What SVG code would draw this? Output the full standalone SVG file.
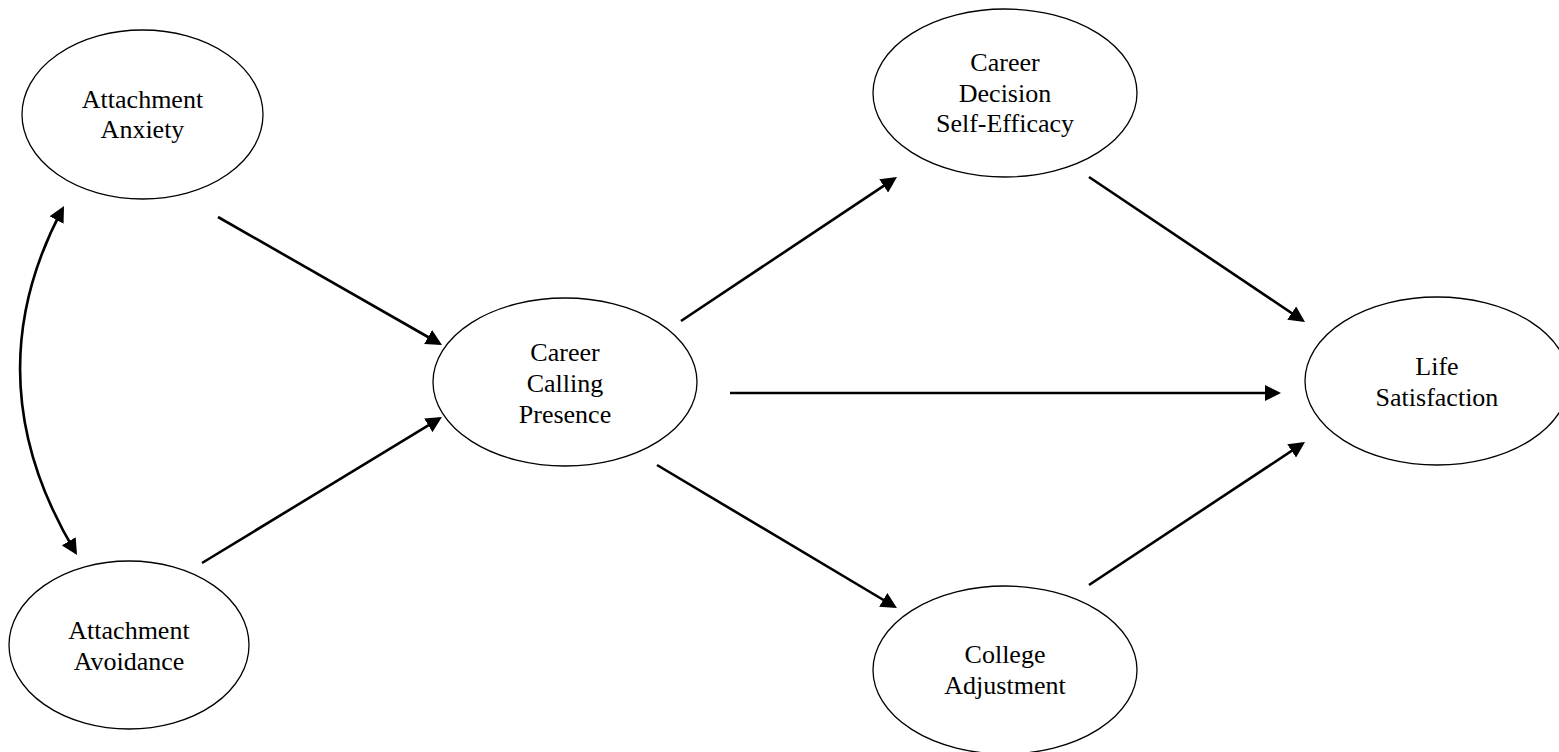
<svg xmlns="http://www.w3.org/2000/svg" width="1559" height="752" viewBox="0 0 1559 752">
<style>
.node ellipse{fill:#fff;stroke:#000;stroke-width:1.3}
.node text{font-family:"Liberation Serif","Times New Roman",serif;font-size:26px;fill:#000;text-anchor:middle}
.conn{fill:none;stroke:#000;stroke-width:2.6}
</style>
<defs>
<marker id="ah" markerUnits="userSpaceOnUse" markerWidth="16" markerHeight="16" viewBox="0 0 16 16" refX="13" refY="8" orient="auto-start-reverse">
<path d="M0,0 L16,8 L0,16 z" fill="#000"/>
</marker>
</defs>
<rect width="1559" height="752" fill="#fff"/>
<g id="connectors">
<path class="conn" d="M62.6,208.6 Q-28.5,379.5 75.5,552.4" marker-start="url(#ah)" marker-end="url(#ah)"/>
<line class="conn" x1="218" y1="217" x2="439.4" y2="343.5" marker-end="url(#ah)"/>
<line class="conn" x1="202" y1="563" x2="439.4" y2="418.6" marker-end="url(#ah)"/>
<line class="conn" x1="681" y1="321" x2="894.5" y2="178.7" marker-end="url(#ah)"/>
<line class="conn" x1="730" y1="393" x2="1278" y2="393" marker-end="url(#ah)"/>
<line class="conn" x1="657" y1="465" x2="894.4" y2="606.5" marker-end="url(#ah)"/>
<line class="conn" x1="1089" y1="177" x2="1302.5" y2="320.3" marker-end="url(#ah)"/>
<line class="conn" x1="1089" y1="585" x2="1302.5" y2="443.7" marker-end="url(#ah)"/>
</g>
<g id="attachment-anxiety" class="node">
<ellipse cx="142.5" cy="114.5" rx="120.5" ry="84.5"/>
<text x="142.5" y="108">Attachment</text>
<text x="142.5" y="138">Anxiety</text>
</g>
<g id="attachment-avoidance" class="node">
<ellipse cx="129" cy="645" rx="120" ry="84"/>
<text x="129" y="639">Attachment</text>
<text x="129" y="670">Avoidance</text>
</g>
<g id="career-calling-presence" class="node">
<ellipse cx="565" cy="382" rx="132" ry="84"/>
<text x="565" y="361">Career</text>
<text x="565" y="392">Calling</text>
<text x="565" y="423">Presence</text>
</g>
<g id="career-decision-self-efficacy" class="node">
<ellipse cx="1005" cy="93" rx="132" ry="84"/>
<text x="1005" y="71">Career</text>
<text x="1005" y="102">Decision</text>
<text x="1005" y="132">Self-Efficacy</text>
</g>
<g id="life-satisfaction" class="node">
<ellipse cx="1437" cy="381" rx="132" ry="84"/>
<text x="1437" y="375">Life</text>
<text x="1437" y="406">Satisfaction</text>
</g>
<g id="college-adjustment" class="node">
<ellipse cx="1005" cy="670" rx="132" ry="84"/>
<text x="1005" y="663">College</text>
<text x="1005" y="694">Adjustment</text>
</g>
</svg>
